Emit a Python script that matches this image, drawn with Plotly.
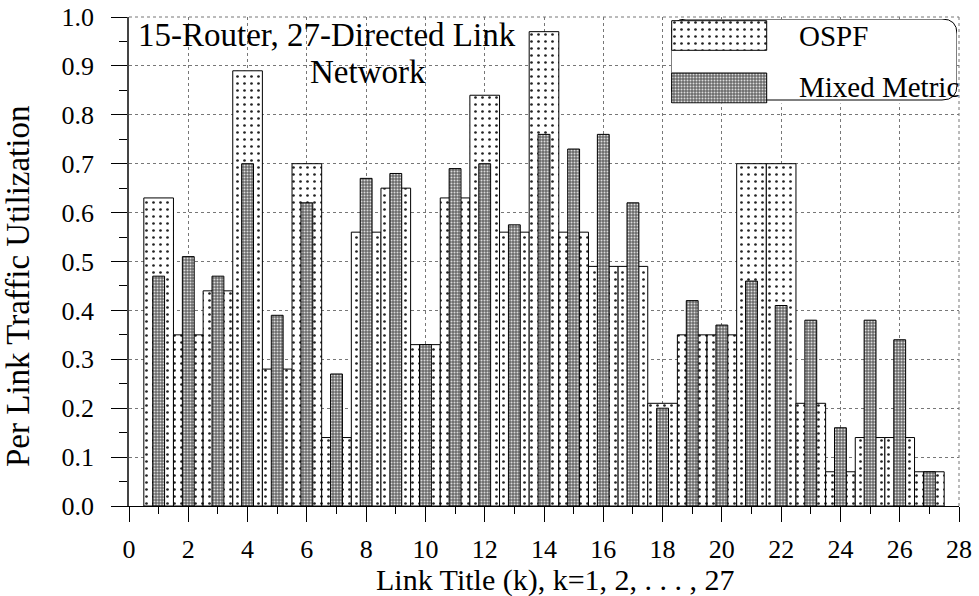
import plotly.graph_objects as go

links = list(range(1, 28))
ospf = [0.63, 0.35, 0.44, 0.89, 0.28, 0.70, 0.14, 0.56, 0.65, 0.33,
        0.63, 0.84, 0.56, 0.97, 0.56, 0.49, 0.49, 0.21, 0.35, 0.35,
        0.70, 0.70, 0.21, 0.07, 0.14, 0.14, 0.07]
mixed = [0.47, 0.51, 0.47, 0.70, 0.39, 0.62, 0.27, 0.67, 0.68, 0.33,
         0.69, 0.70, 0.575, 0.76, 0.73, 0.76, 0.62, 0.20, 0.42, 0.37,
         0.46, 0.41, 0.38, 0.16, 0.38, 0.34, 0.07]
x_ticks = list(range(0, 29, 2))
y_ticks = [round(0.1 * i, 1) for i in range(11)]

FONT = "Liberation Serif"
ospf_pattern = dict(shape=".", fgcolor="#222222", bgcolor="white", size=7, solidity=0.12, fillmode="replace")
mixed_pattern = dict(shape=".", fgcolor="#dcdcdc", bgcolor="#6a6a6a", size=3, solidity=0.35, fillmode="replace")

W, H = 979, 596
PL, PT, PW, PH = 129, 17, 830, 489  # plot area in pixels

fig = go.Figure()
fig.add_trace(go.Bar(x=links, y=ospf, width=1.0, name="OSPF",
                     marker=dict(color="white", pattern=ospf_pattern,
                                 line=dict(color="black", width=1))))
fig.add_trace(go.Bar(x=links, y=mixed, width=0.4, name="Mixed Metric",
                     marker=dict(color="#6a6a6a", pattern=mixed_pattern,
                                 line=dict(color="black", width=1))))

# legend keys drawn on a pixel-scaled overlay axis
fig.add_trace(go.Bar(orientation="h", y=[35.5], x=[95], base=[671.7], width=29.6,
                     xaxis="x2", yaxis="y2", showlegend=False, hoverinfo="skip",
                     marker=dict(color="white", pattern=ospf_pattern,
                                 line=dict(color="black", width=1))))
fig.add_trace(go.Bar(orientation="h", y=[88], x=[95], base=[671.7], width=30,
                     xaxis="x2", yaxis="y2", showlegend=False, hoverinfo="skip",
                     marker=dict(color="#6a6a6a", pattern=mixed_pattern,
                                 line=dict(color="black", width=1))))

grid = dict(showgrid=True, gridcolor="#777777", griddash="dot", gridwidth=1)


def px(x):
    return (x - PL) / PW


def py(y):
    return (PT + PH - y) / PH


fig.update_layout(
    width=W, height=H,
    margin=dict(l=PL, r=W - PL - PW, t=PT, b=H - PT - PH),
    plot_bgcolor="white", paper_bgcolor="white",
    barmode="overlay", showlegend=False,
    font=dict(family=FONT, color="black", size=26),
    xaxis=dict(range=[0, 28], tickvals=x_ticks, ticks="outside", ticklen=15,
               tickcolor="black", showline=True, linecolor="black", linewidth=1,
               zeroline=False, tickfont=dict(size=26), ticklabelstandoff=5, automargin=False,
               ticklabeloverflow="allow",
               minor=dict(dtick=1, tick0=0, ticks="outside", ticklen=7, tickcolor="black", showgrid=False),
               **grid),
    yaxis=dict(range=[0, 1.0], tickvals=y_ticks, tickformat=".1f", ticks="outside",
               ticklen=16, tickcolor="black", showline=True, linecolor="#444444",
               linewidth=1.5, zeroline=False, tickfont=dict(size=26), ticklabelstandoff=12,
               automargin=False, ticklabeloverflow="allow",
               minor=dict(dtick=0.05, tick0=0, ticks="outside", ticklen=8, tickcolor="black", showgrid=False),
               **grid),
    xaxis2=dict(domain=[px(671), px(957)], range=[671, 957],
                visible=False, anchor="y2", fixedrange=True),
    yaxis2=dict(domain=[py(103.5), py(19)], range=[103.5, 19],
                visible=False, anchor="x2", fixedrange=True),
)

# plot frame (top and right) as dotted lines
fig.add_shape(type="line", xref="paper", yref="paper", x0=0, x1=1, y0=1, y1=1,
              line=dict(color="#777777", width=1, dash="dot"), layer="below")
fig.add_shape(type="line", xref="paper", yref="paper", x0=1, x1=1, y0=0, y1=1,
              line=dict(color="#777777", width=1, dash="dot"), layer="below")

# legend box (rounded), in the overlay axis pixel units
L, R, T, B, r = 671, 957, 19, 100, 15
path = (f"M {L+r},{T} L {R-r},{T} Q {R},{T} {R},{T+r} L {R},{B-r} Q {R},{B} {R-r},{B} "
        f"L {L+r},{B} Q {L},{B} {L},{B-r} L {L},{T+r} Q {L},{T} {L+r},{T} Z")
fig.add_shape(type="path", path=path, xref="x2", yref="y2", layer="below",
              fillcolor="white", line=dict(color="black", width=1))

fig.add_annotation(x=797, y=36, xref="x2", yref="y2", text="OSPF", showarrow=False,
                   xanchor="left", yanchor="middle", font=dict(size=29, family=FONT))
fig.add_annotation(x=797, y=87, xref="x2", yref="y2", text="Mixed Metric", showarrow=False,
                   xanchor="left", yanchor="middle", font=dict(size=29, family=FONT))

# chart title inside plot
fig.add_annotation(x=px(136), y=py(35), xref="paper", yref="paper",
                   text="15-Router, 27-Directed Link", showarrow=False,
                   xanchor="left", yanchor="middle", font=dict(size=33, family=FONT))
fig.add_annotation(x=px(368), y=py(72), xref="paper", yref="paper",
                   text="Network", showarrow=False,
                   xanchor="center", yanchor="middle", font=dict(size=33, family=FONT))

# axis titles
fig.add_annotation(x=px(555), y=py(580), xref="paper", yref="paper",
                   text="Link Title (k), k=1, 2, . . . , 27", showarrow=False,
                   xanchor="center", yanchor="middle", font=dict(size=30, family=FONT))
fig.add_annotation(x=px(18), y=py(287), xref="paper", yref="paper",
                   text="Per Link Traffic Utilization", showarrow=False, textangle=-90,
                   xanchor="center", yanchor="middle", font=dict(size=33, family=FONT))

# remove the default page margin so the figure sits at the window's corner
fig.write_html("out.html", config={"displayModeBar": False},
               post_script="document.body.style.margin='0px';")
